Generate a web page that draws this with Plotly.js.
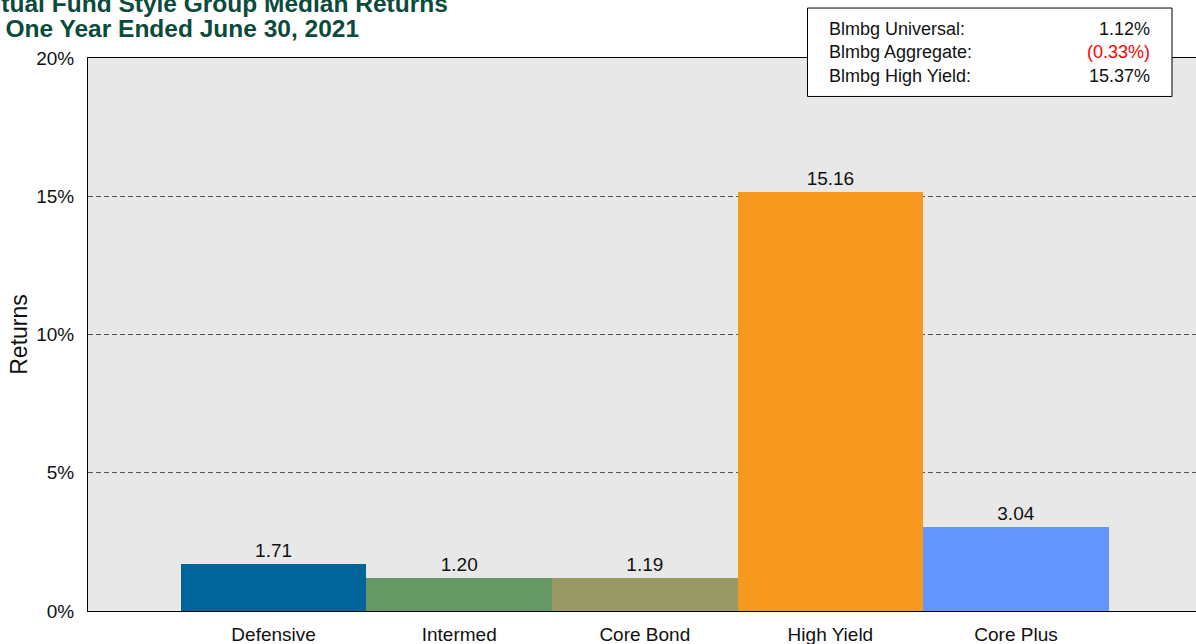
<!DOCTYPE html>
<html>
<head>
<meta charset="utf-8">
<script src="https://cdn.plot.ly/plotly-3.0.1.min.js"></script>
<style>html,body{margin:0;padding:0;background:#fff;}#chart{width:1196px;height:644px;}</style>
</head>
<body>
<div id="chart"></div>
<script>
// ---- data ----
const categories = ["Defensive", "Intermed", "Core Bond", "High Yield", "Core Plus"];
const medianReturns = [1.71, 1.20, 1.19, 15.16, 3.04];
const barColors = ["#006699", "#669966", "#999966", "#F7981F", "#6396FF"];
const indexNames = ["Blmbg Universal:", "Blmbg Aggregate:", "Blmbg High Yield:"];
const indexReturns = [1.12, -0.33, 15.37];
const yTickVals = [0, 5, 10, 15, 20];
const titleLines = ["Mutual Fund Style Group Median Returns", "for One Year Ended June 30, 2021"];

// ---- helpers ----
const W = 1196, H = 644;
const M = {l: 88, r: 0, t: 57.5, b: 33};
const PW = W - M.l - M.r, PH = H - M.t - M.b;
const px2x = px => (px - M.l) / PW;
const px2y = py => (H - M.b - py) / PH;
const fmtIdx = v => v < 0 ? '<span style="color:#FF0000">(' + Math.abs(v).toFixed(2) + '%)</span>' : v.toFixed(2) + '%';

const FONT = 'Arial, "Liberation Sans", sans-serif';

const trace = {
  type: 'bar',
  x: categories.map((c, i) => i),
  y: medianReturns,
  marker: {color: barColors, line: {width: 0}},
  width: 1,
  text: medianReturns.map(v => v.toFixed(2)),
  textposition: 'outside',
  textfont: {family: FONT, size: 19, color: '#111'},
  cliponaxis: false,
  hoverinfo: 'skip'
};

const annotations = [
  {xref: 'paper', yref: 'paper', x: px2x(-36), y: px2y(3), xanchor: 'left', yanchor: 'middle',
   text: '<b>' + titleLines[0] + '</b>', showarrow: false, font: {family: FONT, size: 24.5, color: '#0B4B3B'}},
  {xref: 'paper', yref: 'paper', x: px2x(-36), y: px2y(28), xanchor: 'left', yanchor: 'middle',
   text: '<b>' + titleLines[1] + '</b>', showarrow: false, font: {family: FONT, size: 24.5, color: '#0B4B3B'}},
  {xref: 'paper', yref: 'paper', x: px2x(827), y: px2y(52), xanchor: 'left', yanchor: 'middle', align: 'left',
   text: indexNames.join('<br>'), showarrow: false, font: {family: FONT, size: 18, color: '#111'}},
  {xref: 'paper', yref: 'paper', x: px2x(1152), y: px2y(52), xanchor: 'right', yanchor: 'middle', align: 'right',
   text: indexReturns.map(fmtIdx).join('<br>'), showarrow: false, font: {family: FONT, size: 18, color: '#111'}}
];

const layout = {
  width: W, height: H,
  margin: M,
  paper_bgcolor: '#FFFFFF',
  plot_bgcolor: '#E8E8E8',
  showlegend: false,
  bargap: 0,
  font: {family: FONT, size: 18, color: '#111'},
  xaxis: {
    type: 'linear',
    range: [-1, PW / 185.6 - 1],
    tickvals: categories.map((c, i) => i),
    ticktext: categories,
    showgrid: false, zeroline: false,
    showline: true, linecolor: '#000', linewidth: 1, mirror: true,
    layer: 'below traces',
    ticks: 'outside', ticklen: 6, tickcolor: 'rgba(0,0,0,0)',
    tickfont: {family: FONT, size: 19, color: '#111'},
    fixedrange: true
  },
  yaxis: {
    range: [0, 20],
    tickvals: yTickVals,
    ticktext: yTickVals.map(v => v + '%'),
    showgrid: true, gridcolor: '#555', griddash: '5px,3px', gridwidth: 1,
    zeroline: false,
    showline: true, linecolor: '#000', linewidth: 1,
    layer: 'below traces',
    ticks: 'outside', ticklen: 9, tickcolor: 'rgba(0,0,0,0)',
    tickfont: {family: FONT, size: 19, color: '#111'},
    title: {text: 'Returns', font: {family: FONT, size: 23, color: '#111'}, standoff: 2},
    automargin: false,
    fixedrange: true
  },
  shapes: [
    {type: 'rect', xref: 'paper', yref: 'paper', x0: px2x(807.5), x1: px2x(1172), y0: px2y(96), y1: px2y(7.5),
     fillcolor: '#FFFFFF', line: {color: '#000', width: 1}, layer: 'above'}
  ],
  annotations: annotations
};

Plotly.newPlot('chart', [trace], layout, {displayModeBar: false, staticPlot: true});
</script>
</body>
</html>
